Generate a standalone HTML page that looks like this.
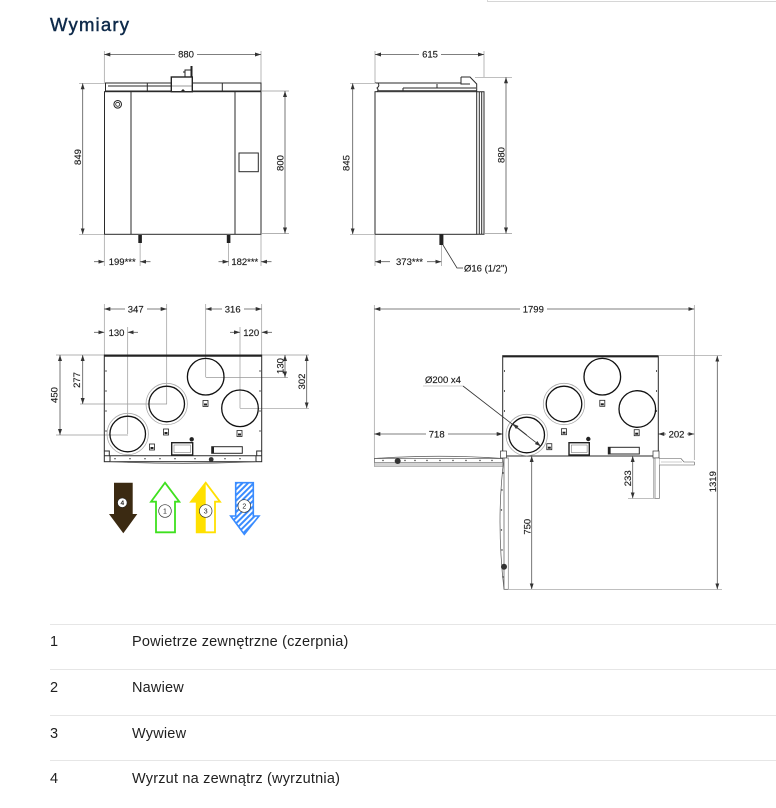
<!DOCTYPE html>
<html><head><meta charset="utf-8">
<style>
html,body{margin:0;padding:0;background:#fff;}
body{width:776px;height:808px;position:relative;overflow:hidden;font-family:"Liberation Sans",sans-serif;}
svg{position:absolute;left:0;top:0;}
.t{font-family:"Liberation Sans",sans-serif;font-size:9.5px;fill:#1a1a1a;stroke:#1a1a1a;stroke-width:0.15;}
.b{fill:none;stroke:#2a2a2a;stroke-width:1;}
.d{fill:none;stroke:#555;stroke-width:0.8;}
.e{fill:none;stroke:#999;stroke-width:0.7;}
.row{font-family:"Liberation Sans",sans-serif;font-size:14.5px;letter-spacing:0.2px;fill:#1f1f1f;}
</style></head><body>
<svg width="776" height="808" viewBox="0 0 776 808" xmlns="http://www.w3.org/2000/svg">
<defs>
<marker id="a" viewBox="0 0 6 4" refX="6" refY="2" markerWidth="6" markerHeight="4" markerUnits="userSpaceOnUse" orient="auto-start-reverse"><path d="M0,0 L6,2 L0,4 z" fill="#333"/></marker>
<pattern id="h" width="4" height="4" patternUnits="userSpaceOnUse" patternTransform="rotate(45)"><rect width="4" height="4" fill="#fff"/><rect width="2" height="4" fill="#3a8cff"/></pattern>
</defs>

<path d="M487.5,0 V1.5 H776" fill="none" stroke="#d6d6d6" stroke-width="1"/>

<text x="50" y="31" style="font-family:'Liberation Sans',sans-serif;font-size:18.5px;letter-spacing:1.2px;fill:#0e2a4a;stroke:#0e2a4a;stroke-width:0.45;">Wymiary</text>

<!-- ============ FRONT VIEW ============ -->
<line class="e" x1="104.3" y1="51" x2="104.3" y2="83"/>
<line class="e" x1="261" y1="51" x2="261" y2="83"/>
<line class="d" x1="104.3" y1="54.5" x2="261" y2="54.5" marker-start="url(#a)" marker-end="url(#a)"/>
<rect x="175" y="47" width="22" height="10" fill="#fff"/>
<text class="t" x="186" y="57.5" text-anchor="middle">880</text>

<rect class="b" x="105.5" y="83" width="155.5" height="8" />
<line class="b" x1="147.3" y1="83" x2="147.3" y2="91"/>
<line class="b" x1="222.3" y1="83" x2="222.3" y2="91"/>
<line class="b" x1="108" y1="86" x2="171" y2="86" stroke-width="0.5"/>
<rect x="171.3" y="77" width="21" height="14.7" fill="#fff" stroke="#222" stroke-width="1.4"/>
<line x1="171.3" y1="86" x2="192.3" y2="86" stroke="#333" stroke-width="0.6"/>
<path d="M185,70 h6 v7 h-6 z M183,72 h2" fill="none" stroke="#222" stroke-width="1"/>
<rect x="190.5" y="66" width="2" height="11" fill="#222"/>
<path d="M181,91 l2,-2 l2,2 z" fill="#222"/>

<rect class="b" x="104.5" y="91.7" width="156.5" height="142.6" stroke-width="1.1"/>
<line class="b" x1="131" y1="91.7" x2="131" y2="234.3"/>
<line class="b" x1="235" y1="91.7" x2="235" y2="234.3"/>
<circle cx="117.7" cy="104.3" r="3.8" fill="none" stroke="#222" stroke-width="1"/>
<circle cx="117.7" cy="104.3" r="2" fill="none" stroke="#222" stroke-width="0.8"/>
<rect class="b" x="239" y="153" width="19.3" height="18.7"/>
<rect x="138.3" y="235" width="3.6" height="8" fill="#222"/>
<rect x="226.8" y="235" width="3.6" height="8" fill="#222"/>

<line class="e" x1="79" y1="83.3" x2="105" y2="83.3"/>
<line class="e" x1="79" y1="234.3" x2="104" y2="234.3"/>
<line class="d" x1="82.7" y1="83.3" x2="82.7" y2="234.3" marker-start="url(#a)" marker-end="url(#a)"/>
<text class="t" x="80.8" y="157" text-anchor="middle" transform="rotate(-90 80.8 157)">849</text>
<line class="e" x1="261" y1="91" x2="289" y2="91"/>
<line class="e" x1="261" y1="233.5" x2="289" y2="233.5"/>
<line class="d" x1="285" y1="91" x2="285" y2="233.5" marker-start="url(#a)" marker-end="url(#a)"/>
<text class="t" x="283.3" y="163" text-anchor="middle" transform="rotate(-90 283.3 163)">800</text>
<line class="e" x1="104.3" y1="235" x2="104.3" y2="266"/>
<line class="e" x1="140.1" y1="243" x2="140.1" y2="266"/>
<line class="d" x1="94" y1="261.7" x2="104.3" y2="261.7" marker-end="url(#a)"/>
<line class="d" x1="150.5" y1="261.7" x2="140.1" y2="261.7" marker-end="url(#a)"/>
<text class="t" x="122.2" y="265.2" text-anchor="middle">199***</text>
<line class="e" x1="228.6" y1="243" x2="228.6" y2="266"/>
<line class="e" x1="261" y1="235" x2="261" y2="266"/>
<line class="d" x1="218.5" y1="261.7" x2="228.6" y2="261.7" marker-end="url(#a)"/>
<line class="d" x1="271.5" y1="261.7" x2="261" y2="261.7" marker-end="url(#a)"/>
<text class="t" x="244.8" y="265.2" text-anchor="middle">182***</text>

<!-- ============ SIDE VIEW ============ -->
<line class="e" x1="375" y1="51" x2="375" y2="83"/>
<line class="e" x1="484" y1="51" x2="484" y2="77"/>
<line class="d" x1="375" y1="54.5" x2="484" y2="54.5" marker-start="url(#a)" marker-end="url(#a)"/>
<rect x="419" y="47" width="22" height="10" fill="#fff"/>
<text class="t" x="430" y="57.5" text-anchor="middle">615</text>

<path class="b" d="M375,83 h3 q2,3 -1,5 q2,2 0,3.7 M378,83 H461 M378,90.7 H476.7"/>
<path class="b" d="M403,88 H476 M403,88 V90.7 M437,84 V88" stroke-width="0.7"/>
<path class="b" d="M461,77 H470 L476.7,84 V91.7 M461,77 V84 H470"/>
<rect class="b" x="375" y="91.7" width="101.7" height="142.6" stroke-width="1.1"/>
<path class="b" d="M476.7,91.7 H484 V234.3 H476.7 M479.3,91.7 V234.3 M481.7,91.7 V234.3" stroke-width="0.8"/>
<rect x="439.4" y="234.5" width="4" height="10.5" fill="#222"/>

<line class="e" x1="350" y1="83.3" x2="376" y2="83.3"/>
<line class="e" x1="350" y1="234.3" x2="375" y2="234.3"/>
<line class="d" x1="352.7" y1="83.3" x2="352.7" y2="234.3" marker-start="url(#a)" marker-end="url(#a)"/>
<text class="t" x="349.5" y="163" text-anchor="middle" transform="rotate(-90 349.5 163)">845</text>
<line class="e" x1="475" y1="77.3" x2="512" y2="77.3"/>
<line class="e" x1="484" y1="233.5" x2="512" y2="233.5"/>
<line class="d" x1="506" y1="77.3" x2="506" y2="233.5" marker-start="url(#a)" marker-end="url(#a)"/>
<text class="t" x="504.3" y="155" text-anchor="middle" transform="rotate(-90 504.3 155)">880</text>
<polyline points="443,245 457,268 463,268" fill="none" stroke="#333" stroke-width="0.8"/>
<text class="t" x="464" y="271.5">Ø16 (1/2")</text>
<line class="e" x1="375" y1="235" x2="375" y2="266"/>
<line class="e" x1="441.4" y1="245" x2="441.4" y2="266"/>
<line class="d" x1="390" y1="261.7" x2="375" y2="261.7" marker-end="url(#a)"/>
<line class="d" x1="427" y1="261.7" x2="441.4" y2="261.7" marker-end="url(#a)"/>
<text class="t" x="409.5" y="265.2" text-anchor="middle">373***</text>

<!-- ============ TOP VIEW LEFT ============ -->
<line class="e" x1="104.3" y1="304" x2="104.3" y2="355"/>
<line class="e" x1="166.7" y1="304" x2="166.7" y2="404"/>
<line class="e" x1="127.7" y1="327" x2="127.7" y2="434"/>
<line class="e" x1="205.7" y1="304" x2="205.7" y2="377"/>
<line class="e" x1="240" y1="327" x2="240" y2="408.3"/>
<line class="e" x1="261.7" y1="304" x2="261.7" y2="355"/>
<line class="e" x1="56" y1="355" x2="104" y2="355"/>
<line class="e" x1="56" y1="435" x2="128" y2="435"/>
<line class="e" x1="80" y1="404" x2="167" y2="404"/>
<line class="e" x1="262" y1="355" x2="309" y2="355"/>
<line class="e" x1="205.7" y1="377.5" x2="288" y2="377.5"/>
<line class="e" x1="240" y1="408.3" x2="309" y2="408.3"/>

<line class="d" x1="104.3" y1="309" x2="166.7" y2="309" marker-start="url(#a)" marker-end="url(#a)"/>
<rect x="125" y="303" width="22" height="10" fill="#fff"/>
<text class="t" x="135.7" y="312.5" text-anchor="middle">347</text>
<line class="d" x1="205.7" y1="309" x2="261.7" y2="309" marker-start="url(#a)" marker-end="url(#a)"/>
<rect x="222" y="303" width="22" height="10" fill="#fff"/>
<text class="t" x="232.7" y="312.5" text-anchor="middle">316</text>
<line class="d" x1="94" y1="332.3" x2="104.3" y2="332.3" marker-end="url(#a)"/>
<line class="d" x1="138" y1="332.3" x2="127.7" y2="332.3" marker-end="url(#a)"/>
<text class="t" x="116.5" y="335.8" text-anchor="middle">130</text>
<line class="d" x1="230" y1="332.3" x2="240" y2="332.3" marker-end="url(#a)"/>
<line class="d" x1="272" y1="332.3" x2="261.7" y2="332.3" marker-end="url(#a)"/>
<text class="t" x="251.2" y="335.8" text-anchor="middle">120</text>
<line class="d" x1="60" y1="355" x2="60" y2="435" marker-start="url(#a)" marker-end="url(#a)"/>
<text class="t" x="57.5" y="395" text-anchor="middle" transform="rotate(-90 57.5 395)">450</text>
<line class="d" x1="82.7" y1="355" x2="82.7" y2="404" marker-start="url(#a)" marker-end="url(#a)"/>
<text class="t" x="80.2" y="380" text-anchor="middle" transform="rotate(-90 80.2 380)">277</text>
<line class="d" x1="285" y1="355" x2="285" y2="377.5" marker-start="url(#a)" marker-end="url(#a)"/>
<text class="t" x="283.3" y="366" text-anchor="middle" transform="rotate(-90 283.3 366)">130</text>
<line class="d" x1="306.7" y1="355" x2="306.7" y2="408.3" marker-start="url(#a)" marker-end="url(#a)"/>
<text class="t" x="305" y="381.5" text-anchor="middle" transform="rotate(-90 305 381.5)">302</text>

<rect class="b" x="104.3" y="355" width="157.4" height="106.7" stroke-width="1.1"/>
<line x1="104.3" y1="355.8" x2="261.7" y2="355.8" stroke="#222" stroke-width="1.8"/>
<g stroke="#333" stroke-width="0.8">
<line x1="106" y1="370" x2="106" y2="372"/><line x1="106" y1="390" x2="106" y2="392"/><line x1="106" y1="410" x2="106" y2="412"/><line x1="106" y1="430" x2="106" y2="432"/>
<line x1="260" y1="370" x2="260" y2="372"/><line x1="260" y1="390" x2="260" y2="392"/><line x1="260" y1="410" x2="260" y2="412"/><line x1="260" y1="430" x2="260" y2="432"/>
</g>
<path class="b" d="M104.3,455.7 H261.7 M110,455.7 V461.7 M256,455.7 V461.7 M104.3,451 h5 v4.7 M261.7,451 h-5 v4.7" stroke-width="0.8"/>
<path d="M110,461.7 Q183,465 256,461.7" fill="none" stroke="#555" stroke-width="0.7"/>
<g fill="#333"><circle cx="115" cy="458.7" r="0.7"/><circle cx="130" cy="458.7" r="0.7"/><circle cx="145" cy="458.7" r="0.7"/><circle cx="160" cy="458.7" r="0.7"/><circle cx="175" cy="458.7" r="0.7"/><circle cx="195" cy="458.7" r="0.7"/><circle cx="225" cy="458.7" r="0.7"/><circle cx="240" cy="458.7" r="0.7"/></g>
<circle cx="211.2" cy="459.5" r="2.4" fill="#333"/>
<circle cx="127.7" cy="434" r="20.7" fill="none" stroke="#aaa" stroke-width="0.8"/>
<circle cx="127.7" cy="434" r="17.8" fill="none" stroke="#111" stroke-width="1.3"/>
<circle cx="166.7" cy="404" r="20.7" fill="none" stroke="#aaa" stroke-width="0.8"/>
<circle cx="166.7" cy="404" r="17.8" fill="none" stroke="#111" stroke-width="1.3"/>
<circle cx="205.7" cy="376.7" r="18.3" fill="none" stroke="#111" stroke-width="1.3"/>
<circle cx="240" cy="408.3" r="18.3" fill="none" stroke="#111" stroke-width="1.3"/>
<g fill="#fff" stroke="#222" stroke-width="0.8">
<rect x="149.5" y="444" width="5" height="6"/><rect x="163.5" y="429" width="5" height="6"/><rect x="203" y="400.5" width="5" height="6"/><rect x="237" y="430.5" width="5" height="6"/>
</g>
<g fill="#222"><rect x="150.5" y="447" width="3" height="2"/><rect x="164.5" y="432" width="3" height="2"/><rect x="204" y="403.5" width="3" height="2"/><rect x="238" y="433.5" width="3" height="2"/></g>
<rect x="171.7" y="442.7" width="21" height="12.3" fill="#fff" stroke="#222" stroke-width="1.4"/>
<rect x="174" y="445" width="16.5" height="7.5" fill="none" stroke="#666" stroke-width="0.5"/>
<circle cx="191.7" cy="439.3" r="2.2" fill="#222"/>
<rect class="b" x="211.7" y="446.7" width="30.6" height="6.6" stroke-width="0.8"/>
<rect x="211.7" y="446.7" width="2.3" height="6.6" fill="#222"/>

<!-- arrows -->
<polygon points="114,482.7 132.7,482.7 132.7,514 137.3,514 123.3,533.3 109,514 114,514" fill="#3b2a12"/>
<circle cx="122.3" cy="502.7" r="4.8" fill="#fff" stroke="#222" stroke-width="0.6"/>
<text x="122.3" y="505" text-anchor="middle" style="font-family:'Liberation Sans',sans-serif;font-size:6.5px;font-weight:bold;fill:#222;">4</text>

<polygon points="165,482.7 179.3,501.7 175,501.7 175,532.3 156,532.3 156,501.7 151,501.7" fill="#fff" stroke="#3ee01e" stroke-width="1.8" stroke-linejoin="miter"/>
<circle cx="165" cy="511" r="6.3" fill="#fff" stroke="#333" stroke-width="0.7"/>
<text x="165" y="513.4" text-anchor="middle" style="font-family:'Liberation Sans',sans-serif;font-size:7px;fill:#222;">1</text>

<polygon points="205.7,482.7 191,501.7 196.7,501.7 196.7,532.3 205.7,532.3" fill="#ffe000"/>
<polygon points="205.7,482.7 220,501.7 215,501.7 215,532.3 196.7,532.3 196.7,501.7 191,501.7" fill="none" stroke="#ffe000" stroke-width="1.8"/>
<circle cx="205.7" cy="511" r="6.3" fill="#fff" stroke="#333" stroke-width="0.7"/>
<text x="205.7" y="513.4" text-anchor="middle" style="font-family:'Liberation Sans',sans-serif;font-size:7px;fill:#222;">3</text>

<polygon points="235.7,482.7 253.3,482.7 253.3,516 259,516 244.3,534.3 230.7,516 235.7,516" fill="url(#h)" stroke="#3a8cff" stroke-width="1.6"/>
<circle cx="244.3" cy="506" r="6.3" fill="#fff" stroke="#333" stroke-width="0.7"/>
<text x="244.3" y="508.4" text-anchor="middle" style="font-family:'Liberation Sans',sans-serif;font-size:7px;fill:#222;">2</text>

<!-- ============ TOP VIEW RIGHT ============ -->
<line class="e" x1="374.3" y1="305" x2="374.3" y2="458"/>
<line class="e" x1="694.3" y1="305" x2="694.3" y2="460"/>
<line class="d" x1="374.3" y1="309" x2="694.3" y2="309" marker-start="url(#a)" marker-end="url(#a)"/>
<rect x="520" y="303" width="27" height="10" fill="#fff"/>
<text class="t" x="533.3" y="312.5" text-anchor="middle">1799</text>

<line class="d" x1="374.3" y1="434" x2="502.7" y2="434" marker-start="url(#a)" marker-end="url(#a)"/>
<rect x="426" y="428" width="22" height="10" fill="#fff"/>
<text class="t" x="436.7" y="437.5" text-anchor="middle">718</text>
<line class="d" x1="658.3" y1="434" x2="694.3" y2="434" marker-start="url(#a)" marker-end="url(#a)"/>
<rect x="666" y="428" width="21" height="10" fill="#fff"/>
<text class="t" x="676.5" y="437.5" text-anchor="middle">202</text>

<rect class="b" x="502.7" y="355.7" width="155.6" height="100.3" stroke-width="1.1"/>
<line x1="502.7" y1="356.5" x2="658.3" y2="356.5" stroke="#222" stroke-width="1.8"/>
<g stroke="#333" stroke-width="0.8">
<line x1="504.5" y1="370" x2="504.5" y2="372"/><line x1="504.5" y1="390" x2="504.5" y2="392"/><line x1="504.5" y1="410" x2="504.5" y2="412"/>
<line x1="656.5" y1="370" x2="656.5" y2="372"/><line x1="656.5" y1="390" x2="656.5" y2="392"/><line x1="656.5" y1="410" x2="656.5" y2="412"/>
</g>
<circle cx="526.7" cy="435" r="20.7" fill="none" stroke="#aaa" stroke-width="0.8"/>
<circle cx="526.7" cy="435" r="17.8" fill="none" stroke="#111" stroke-width="1.3"/>
<circle cx="564" cy="404" r="20.7" fill="none" stroke="#aaa" stroke-width="0.8"/>
<circle cx="564" cy="404" r="17.8" fill="none" stroke="#111" stroke-width="1.3"/>
<circle cx="602.3" cy="376.7" r="18.3" fill="none" stroke="#111" stroke-width="1.3"/>
<circle cx="637.3" cy="409" r="18.3" fill="none" stroke="#111" stroke-width="1.3"/>
<g fill="#fff" stroke="#222" stroke-width="0.8">
<rect x="546.8" y="443.7" width="5" height="6"/><rect x="561.5" y="428.7" width="5" height="6"/><rect x="599.8" y="400.3" width="5" height="6"/><rect x="634.2" y="429.7" width="5" height="6"/>
</g>
<g fill="#222"><rect x="547.8" y="446.7" width="3" height="2"/><rect x="562.5" y="431.7" width="3" height="2"/><rect x="600.8" y="403.3" width="3" height="2"/><rect x="635.2" y="432.7" width="3" height="2"/></g>
<rect x="569" y="442.7" width="20.3" height="12.3" fill="#fff" stroke="#222" stroke-width="1.4"/>
<rect x="571.3" y="445" width="15.8" height="7.5" fill="none" stroke="#666" stroke-width="0.5"/>
<circle cx="588.3" cy="439" r="2.2" fill="#222"/>
<rect class="b" x="608.3" y="447.3" width="31" height="6.7" stroke-width="0.8"/>
<rect x="608.3" y="447.3" width="2.3" height="6.7" fill="#222"/>

<text class="t" x="425" y="383">Ø200 x4</text>
<line x1="423" y1="386" x2="463" y2="386" stroke="#999" stroke-width="0.6"/>
<line x1="463" y1="386" x2="540.8" y2="446.2" stroke="#333" stroke-width="0.8" marker-end="url(#a)"/>
<line x1="526.7" y1="435" x2="512.6" y2="423.8" stroke="#333" stroke-width="0.8" marker-end="url(#a)"/>

<path d="M374.3,458.5 Q440,454 502.7,458.5" fill="none" stroke="#555" stroke-width="0.7"/>
<rect x="374.3" y="458.5" width="128.4" height="4" fill="#fff" stroke="#444" stroke-width="0.6"/>
<rect x="374.3" y="462.5" width="128.4" height="4" fill="#d4d4d4" stroke="#888" stroke-width="0.5"/>
<g fill="#333"><circle cx="383" cy="460.5" r="0.7"/><circle cx="405" cy="460.5" r="0.7"/><circle cx="415" cy="460.5" r="0.7"/><circle cx="427" cy="460.5" r="0.7"/><circle cx="440" cy="460.5" r="0.7"/><circle cx="453" cy="460.5" r="0.7"/><circle cx="466" cy="460.5" r="0.7"/><circle cx="480" cy="460.5" r="0.7"/><circle cx="492" cy="460.5" r="0.7"/></g>
<circle cx="397.7" cy="461" r="3" fill="#333"/>
<rect x="500.5" y="451" width="6" height="7" fill="#fff" stroke="#333" stroke-width="0.7"/>
<rect x="653" y="451" width="6" height="7" fill="#fff" stroke="#333" stroke-width="0.7"/>
<rect x="504" y="458" width="4.3" height="131.3" fill="#fff" stroke="#555" stroke-width="0.7"/>
<path d="M504,458 Q496,520 504,589.3" fill="none" stroke="#555" stroke-width="0.7"/>
<line x1="508.3" y1="458" x2="508.3" y2="589.3" stroke="#999" stroke-width="0.6"/>
<g fill="#333"><circle cx="503" cy="473" r="0.7"/><circle cx="502" cy="490" r="0.7"/><circle cx="501.5" cy="510" r="0.7"/><circle cx="501.5" cy="530" r="0.7"/><circle cx="502" cy="550" r="0.7"/><circle cx="503" cy="577" r="0.7"/></g>
<circle cx="504" cy="566.7" r="3" fill="#333"/>
<rect x="655" y="458" width="4.5" height="40.3" fill="#fff" stroke="#555" stroke-width="0.6"/>
<line x1="653.3" y1="458" x2="653.3" y2="498.3" stroke="#888" stroke-width="0.6"/>
<path d="M659.5,458.5 H681 L684,462 H694.3 V465 H659.5" fill="#fff" stroke="#555" stroke-width="0.6"/>
<line x1="661" y1="462" x2="682" y2="462" stroke="#999" stroke-width="0.5"/>

<line class="e" x1="628" y1="498.3" x2="655" y2="498.3"/>
<line class="d" x1="632.7" y1="456" x2="632.7" y2="498.3" marker-start="url(#a)" marker-end="url(#a)"/>
<text class="t" x="630.8" y="478.3" text-anchor="middle" transform="rotate(-90 630.8 478.3)">233</text>
<line class="d" x1="531.7" y1="456" x2="531.7" y2="589.3" marker-start="url(#a)" marker-end="url(#a)"/>
<text class="t" x="530.5" y="526.7" text-anchor="middle" transform="rotate(-90 530.5 526.7)">750</text>
<line class="e" x1="508" y1="589.3" x2="722" y2="589.3"/>
<line class="e" x1="658.3" y1="355.7" x2="722" y2="355.7"/>
<line class="d" x1="717.3" y1="355.7" x2="717.3" y2="589.3" marker-start="url(#a)" marker-end="url(#a)"/>
<text class="t" x="716" y="481.7" text-anchor="middle" transform="rotate(-90 716 481.7)">1319</text>

<!-- ============ TABLE ============ -->
<g stroke="#e6e6e6" stroke-width="1">
<line x1="50" y1="624.5" x2="776" y2="624.5"/>
<line x1="50" y1="669.5" x2="776" y2="669.5"/>
<line x1="50" y1="715.5" x2="776" y2="715.5"/>
<line x1="50" y1="760.5" x2="776" y2="760.5"/>
</g>
<text class="row" x="50" y="646">1</text>
<text class="row" x="132" y="646">Powietrze zewnętrzne (czerpnia)</text>
<text class="row" x="50" y="692">2</text>
<text class="row" x="132" y="692">Nawiew</text>
<text class="row" x="50" y="738">3</text>
<text class="row" x="132" y="738">Wywiew</text>
<text class="row" x="50" y="783">4</text>
<text class="row" x="132" y="783">Wyrzut na zewnątrz (wyrzutnia)</text>
</svg>
</body></html>
